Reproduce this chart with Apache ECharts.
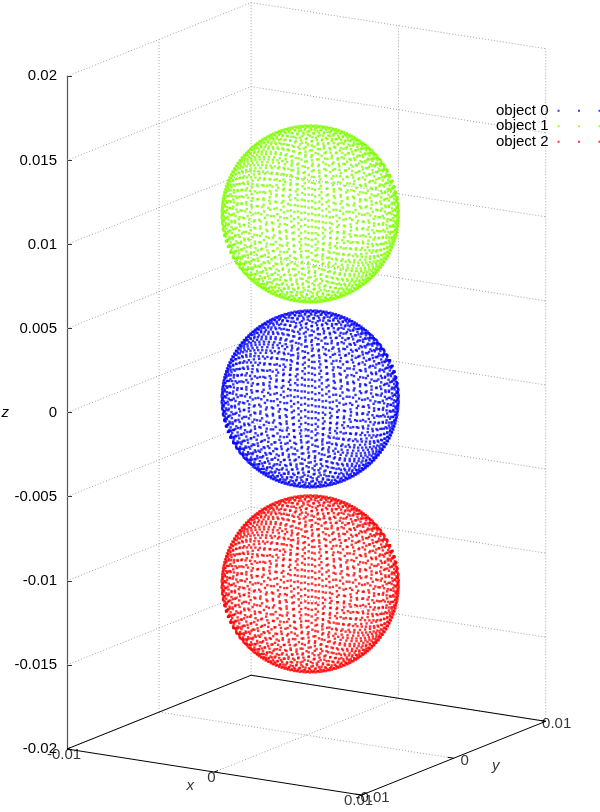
<!DOCTYPE html>
<html>
<head>
<meta charset="utf-8">
<title>objects</title>
<script src="https://cdn.jsdelivr.net/npm/echarts@6/dist/echarts.min.js"></script>
<style>
  html, body { margin: 0; padding: 0; background: #fff; }
  #chart { width: 600px; height: 812px; }
</style>
</head>
<body>
<div id="chart"></div>
<script>
const objectNames = ["object 0", "object 1", "object 2"];
const centerX = [0.0002, 0.0002, 0.0002];
const centerY = [0.0001, 0.0001, 0.0001];
const centerZ = [0, 0.011, -0.011];
const radius = [0.0051, 0.0051, 0.0051];
const meshSize = 20; // nodes along each edge of a cube face

const xRange = [-0.01, 0.01];
const yRange = [-0.01, 0.01];
const zRange = [-0.02, 0.02];
const xTicks = [-0.01, 0, 0.01];
const yTicks = [-0.01, 0, 0.01];
const zTicks = [-0.02, -0.015, -0.01, -0.005, 0, 0.005, 0.01, 0.015, 0.02];
const xTickLabels = ["-0.01", "0", "0.01"];
const yTickLabels = ["-0.01", "0", "0.01"];

// orthographic view, same idea as gnuplot "set view 75.5, 32"
const rotX = (75.5 * Math.PI) / 180;
const rotZ = (32 * Math.PI) / 180;
const scale = 17370; // px per data unit
const origin = [67, 749]; // screen position of (xmin, ymin, zmin)

function project(x, y, z) {
  const dx = x - xRange[0];
  const dy = y - yRange[0];
  const dz = z - zRange[0];
  const sx = origin[0] + scale * (Math.cos(rotZ) * dx + Math.sin(rotZ) * dy);
  const sy =
    origin[1] +
    scale *
      (Math.cos(rotX) * (Math.sin(rotZ) * dx - Math.cos(rotZ) * dy) -
        Math.sin(rotX) * dz);
  return [sx, sy];
}

// surface nodes of a cube-sphere mesh
function sphereNodes(cx, cy, cz, r, n) {
  const seen = new Set();
  const pts = [];
  for (let f = 0; f < 6; f++) {
    const s = f % 2 ? -1 : 1;
    for (let i = 0; i < n; i++) {
      for (let j = 0; j < n; j++) {
        const a = Math.tan(((-1 + (2 * i) / (n - 1)) * Math.PI) / 4);
        const b = Math.tan(((-1 + (2 * j) / (n - 1)) * Math.PI) / 4);
        const v = f < 2 ? [s, a, b] : f < 4 ? [a, s, b] : [a, b, s];
        const len = Math.hypot(v[0], v[1], v[2]);
        const key = v.map((c) => (c / len).toFixed(5)).join(",");
        if (seen.has(key)) continue;
        seen.add(key);
        pts.push(
          project(cx + (r * v[0]) / len, cy + (r * v[1]) / len, cz + (r * v[2]) / len)
        );
      }
    }
  }
  return pts;
}

// box edges on the base and small tics
const boxLines = [
  { coords: [
    project(xRange[0], yRange[0], zRange[0]),
    project(xRange[1], yRange[0], zRange[0]),
    project(xRange[1], yRange[1], zRange[0]),
    project(xRange[0], yRange[1], zRange[0]),
    project(xRange[0], yRange[0], zRange[0]),
  ] },
];
xTicks.forEach((x) => {
  boxLines.push({ coords: [project(x, yRange[0], zRange[0]), project(x, yRange[0] + 0.0004, zRange[0])] });
});
yTicks.forEach((y) => {
  boxLines.push({ coords: [project(xRange[1], y, zRange[0]), project(xRange[1] - 0.0004, y, zRange[0])] });
});

// grid on base and back walls
const gridLines = [];
zTicks.forEach((z) => {
  gridLines.push({ coords: [
    project(xRange[0], yRange[0], z),
    project(xRange[0], yRange[1], z),
    project(xRange[1], yRange[1], z),
  ] });
});
yTicks.slice(1).forEach((y) => {
  gridLines.push({ coords: [project(xRange[0], y, zRange[0]), project(xRange[0], y, zRange[1])] });
});
xTicks.slice(1).forEach((x) => {
  gridLines.push({ coords: [project(x, yRange[1], zRange[0]), project(x, yRange[1], zRange[1])] });
});
xTicks.slice(1, -1).forEach((x) => {
  gridLines.push({ coords: [project(x, yRange[0], zRange[0]), project(x, yRange[1], zRange[0])] });
});
yTicks.slice(1, -1).forEach((y) => {
  gridLines.push({ coords: [project(xRange[0], y, zRange[0]), project(xRange[1], y, zRange[0])] });
});

const zTop = project(xRange[0], yRange[0], zRange[1])[1];
const zBottom = origin[1];
const font = "Liberation Sans";
const colors = ["#0000ff", "#7fff00", "#ff0000"];

const chart = echarts.init(document.getElementById("chart"));
const option = {
  animation: false,
  textStyle: { fontFamily: font },
  grid: [
    { left: 0, top: 0, width: 600, height: 812, outerBoundsMode: "none" },
    { left: origin[0], top: zTop, width: 10, height: zBottom - zTop, outerBoundsMode: "none" },
  ],
  xAxis: [
    { gridIndex: 0, type: "value", min: 0, max: 600, show: false },
    { gridIndex: 1, type: "value", min: 0, max: 1, show: false },
  ],
  yAxis: [
    { gridIndex: 0, type: "value", min: 0, max: 812, inverse: true, show: false },
    {
      gridIndex: 1,
      type: "value",
      min: zRange[0],
      max: zRange[1],
      interval: 0.005,
      axisLine: { show: true, onZero: false, lineStyle: { color: "#555", width: 1.2 } },
      axisTick: { show: true, inside: true, length: 5, lineStyle: { color: "#333" } },
      axisLabel: {
        margin: 10,
        fontSize: 15,
        color: "#000",
        formatter: (v) => String(+v.toFixed(3)),
      },
      splitLine: { show: false },
      name: "z",
      nameLocation: "middle",
      nameGap: 58,
      nameRotate: 0,
      nameTextStyle: { fontSize: 15, color: "#000", fontStyle: "italic" },
    },
  ],
  legend: {
    data: objectNames,
    orient: "vertical",
    left: 491,
    top: 98,
    align: "right",
    selectedMode: false,
    icon: "path://M0,0h2v2h-2zM20.5,0h2v2h-2zM41,0h2v2h-2z",
    itemWidth: 43,
    itemHeight: 2,
    itemGap: 0,
    textStyle: { fontSize: 15, color: "#000", lineHeight: 15.5, padding: [0, 4, 0, 0] },
  },
  series: [
    {
      name: "grid",
      type: "lines",
      coordinateSystem: "cartesian2d",
      polyline: true,
      silent: true,
      z: 1,
      lineStyle: { color: "#a0a0a0", width: 1, type: [1, 2], opacity: 1 },
      data: gridLines,
    },
    {
      name: "border",
      type: "lines",
      coordinateSystem: "cartesian2d",
      polyline: true,
      silent: true,
      z: 2,
      lineStyle: { color: "#000", width: 1, opacity: 1 },
      data: boxLines,
    },
    ...objectNames.map((name, k) => ({
      name: name,
      type: "scatter",
      symbol: "rect",
      symbolSize: 2.4,
      z: 3,
      itemStyle: { color: colors[k] },
      data: sphereNodes(centerX[k], centerY[k], centerZ[k], radius[k], meshSize),
    })),
    {
      name: "xtics",
      type: "scatter",
      symbolSize: 0,
      silent: true,
      z: 4,
      label: { show: true, position: "inside", offset: [-3, 6], formatter: "{b}", fontSize: 15, color: "#000" },
      data: xTicks.map((x, i) => ({ name: xTickLabels[i], value: project(x, yRange[0], zRange[0]) })),
    },
    {
      name: "ytics",
      type: "scatter",
      symbolSize: 0,
      silent: true,
      z: 4,
      label: { show: true, position: "inside", offset: [11, 3], formatter: "{b}", fontSize: 15, color: "#000" },
      data: yTicks.map((y, i) => ({ name: yTickLabels[i], value: project(xRange[1], y, zRange[0]) })),
    },
    {
      name: "xlabel",
      type: "scatter",
      symbolSize: 0,
      silent: true,
      z: 4,
      label: { show: true, position: "inside", offset: [-24, 14], formatter: "{b}", fontSize: 15, color: "#000", fontStyle: "italic" },
      data: [{ name: "x", value: project(0, yRange[0], zRange[0]) }],
    },
    {
      name: "ylabel",
      type: "scatter",
      symbolSize: 0,
      silent: true,
      z: 4,
      label: { show: true, position: "inside", offset: [42, 8], formatter: "{b}", fontSize: 15, color: "#000", fontStyle: "italic" },
      data: [{ name: "y", value: project(xRange[1], 0, zRange[0]) }],
    },
  ],
};
chart.setOption(option);
</script>
</body>
</html>
